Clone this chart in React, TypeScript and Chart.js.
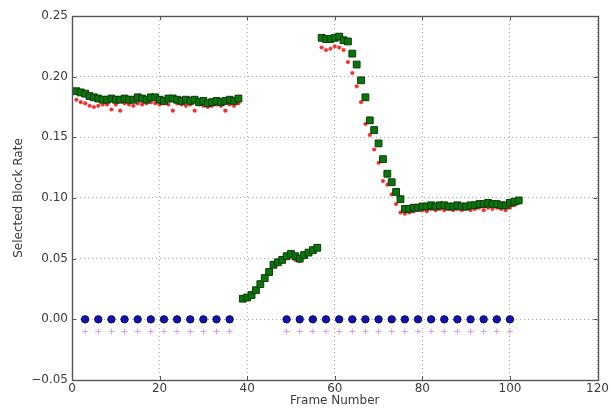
import React, { useEffect, useRef } from "react";
import { Chart, registerables } from "chart.js";

Chart.register(...registerables);

const frames = [
  1, 2, 3, 4, 5, 6, 7, 8, 9, 10, 11, 12, 13, 14, 15, 16, 17, 18, 19, 20,
  21, 22, 23, 24, 25, 26, 27, 28, 29, 30, 31, 32, 33, 34, 35, 36, 37, 38,
  39, 40, 41, 42, 43, 44, 45, 46, 47, 48, 49, 50, 51, 52, 53, 54, 55, 56,
  57, 58, 59, 60, 61, 62, 63, 64, 65, 66, 67, 68, 69, 70, 71, 72, 73, 74, 75, 76,
  77, 78, 79, 80, 81, 82, 83, 84, 85, 86, 87, 88, 89, 90, 91, 92, 93, 94, 95, 96,
  97, 98, 99, 100, 101, 102,
];

const greenRate = [
  0.188, 0.187, 0.186, 0.184, 0.183, 0.182, 0.181, 0.181, 0.182, 0.181,
  0.181, 0.182, 0.181, 0.181, 0.183, 0.182, 0.181, 0.183, 0.183, 0.181,
  0.180, 0.182, 0.182, 0.181, 0.180, 0.181, 0.180, 0.181, 0.179, 0.180,
  0.178, 0.179, 0.180, 0.179, 0.180, 0.181, 0.180, 0.182,
  0.017, 0.018, 0.020, 0.024, 0.029, 0.034, 0.039, 0.045, 0.047, 0.049,
  0.052, 0.054, 0.052, 0.050, 0.053, 0.055, 0.057, 0.059,
  0.232, 0.231, 0.231, 0.232, 0.233, 0.230, 0.229, 0.219, 0.210, 0.197,
  0.183, 0.164, 0.156, 0.145, 0.132, 0.120, 0.113, 0.105, 0.099, 0.091,
  0.091, 0.092, 0.092, 0.093, 0.093, 0.094, 0.093, 0.094, 0.094, 0.093,
  0.093, 0.094, 0.093, 0.093, 0.094, 0.094, 0.095, 0.095, 0.096, 0.095,
  0.095, 0.094, 0.094, 0.096, 0.097, 0.098,
];

const redRate = [
  0.181, 0.179, 0.178, 0.176, 0.175, 0.176, 0.177, 0.177, 0.173, 0.177,
  0.172, 0.178, 0.177, 0.176, 0.178, 0.177, 0.178, 0.179, 0.178, 0.177,
  0.178, 0.177, 0.172, 0.178, 0.177, 0.176, 0.177, 0.172, 0.177, 0.176,
  0.175, 0.176, 0.177, 0.176, 0.172, 0.177, 0.176, 0.178,
  0.016, 0.017, 0.019, 0.023, 0.028, 0.033, 0.038, 0.044, 0.046, 0.048,
  0.051, 0.052, 0.049, 0.048, 0.051, 0.054, 0.056, 0.058,
  0.224, 0.222, 0.223, 0.225, 0.224, 0.222, 0.212, 0.203, 0.192, 0.179,
  0.161, 0.152, 0.140, 0.129, 0.114, 0.111, 0.103, 0.095, 0.088, 0.087,
  0.088, 0.089, 0.090, 0.090, 0.089, 0.091, 0.090, 0.091, 0.090, 0.091,
  0.090, 0.091, 0.090, 0.091, 0.090, 0.091, 0.092, 0.090, 0.092, 0.091,
  0.092, 0.091, 0.090, 0.092, 0.094, 0.096,
];

const markerFrames = [
  3, 6, 9, 12, 15, 18, 21, 24, 27, 30, 33, 36,
  49, 52, 55, 58, 61, 64, 67, 70, 73, 76, 79, 82, 85, 88, 91, 94, 97, 100,
];
const blueRate = [
  0, 0, 0, 0, 0, 0, 0, 0, 0, 0, 0, 0,
  0, 0, 0, 0, 0, 0, 0, 0, 0, 0, 0, 0, 0, 0, 0, 0, 0, 0,
];
const plusRate = [
  -0.01, -0.01, -0.01, -0.01, -0.01, -0.01, -0.01, -0.01, -0.01, -0.01, -0.01, -0.01,
  -0.01, -0.01, -0.01, -0.01, -0.01, -0.01, -0.01, -0.01, -0.01, -0.01, -0.01, -0.01,
  -0.01, -0.01, -0.01, -0.01, -0.01, -0.01,
];

const xTicks = [0, 20, 40, 60, 80, 100, 120];
const yTicks = [-0.05, 0, 0.05, 0.1, 0.15, 0.2, 0.25];

const pts = (xs: number[], ys: number[]) => xs.map((x, i) => ({ x, y: ys[i] }));

const FONT = "'DejaVu Sans', sans-serif";
const TEXT = "#3c3c3c";

const boxPlugin = {
  id: "boxTicks",
  afterDraw(chart: any) {
    const { ctx, chartArea: a, scales } = chart;
    ctx.save();
    ctx.strokeStyle = "#555";
    ctx.lineWidth = 1;
    ctx.beginPath();
    for (const v of xTicks) {
      const px = Math.round(scales.x.getPixelForValue(v)) + 0.5;
      ctx.moveTo(px, a.bottom);
      ctx.lineTo(px, a.bottom - 4);
      ctx.moveTo(px, a.top);
      ctx.lineTo(px, a.top + 4);
    }
    for (const v of yTicks) {
      const py = Math.round(scales.y.getPixelForValue(v)) + 0.5;
      ctx.moveTo(a.left, py);
      ctx.lineTo(a.left + 4, py);
      ctx.moveTo(a.right, py);
      ctx.lineTo(a.right - 4, py);
    }
    ctx.stroke();
    ctx.lineWidth = 1.4;
    ctx.strokeRect(Math.round(a.left) + 0.5, Math.round(a.top) + 0.5, Math.round(a.right - a.left), Math.round(a.bottom - a.top));
    ctx.restore();
  },
};

export default function App() {
  const ref = useRef<HTMLCanvasElement | null>(null);
  useEffect(() => {
    if (!ref.current) return;
    const chart = new Chart(ref.current, {
      type: "scatter",
      data: {
        datasets: [
          {
            label: "green",
            data: pts(frames, greenRate),
            pointStyle: "rect",
            pointRadius: 4.8,
            backgroundColor: "#0d740d",
            borderColor: "#0a3d0a",
            borderWidth: 1,
          },
          {
            label: "red",
            data: pts(frames, redRate),
            pointStyle: "circle",
            pointRadius: 1.8,
            backgroundColor: "#ff2a2a",
            borderColor: "#e03030",
            borderWidth: 0.5,
          },
          {
            label: "blue",
            data: pts(markerFrames, blueRate),
            pointStyle: "circle",
            pointRadius: 3.7,
            backgroundColor: "#1212b4",
            borderColor: "#0c0c5a",
            borderWidth: 1,
          },
          {
            label: "plus",
            data: pts(markerFrames, plusRate),
            pointStyle: "cross",
            pointRadius: 3,
            backgroundColor: "#cfa2e6",
            borderColor: "#cfa2e6",
            borderWidth: 1,
          },
        ],
      },
      plugins: [boxPlugin],
      options: {
        animation: false,
        responsive: false,
        layout: { padding: { left: 4, right: 12, top: 16, bottom: 0 } },
        plugins: { legend: { display: false }, tooltip: { enabled: false } },
        scales: {
          x: {
            type: "linear",
            min: 0,
            max: 120,
            afterBuildTicks: (s: any) => {
              s.ticks = xTicks.map((v) => ({ value: v }));
            },
            afterFit: (s: any) => {
              s.height = 29;
            },
            grid: {
              color: "rgba(0,0,0,0.3)",
              lineWidth: 1,
              drawTicks: false,
            },
            border: { display: false, dash: [1, 3] },
            ticks: {
              padding: 2,
              color: TEXT,
              font: { family: FONT, size: 12 },
              maxRotation: 0,
              callback: (v: any) => String(v),
            },
            title: {
              display: true,
              text: "Frame Number",
              color: TEXT,
              font: { family: FONT, size: 12 },
              padding: { top: 0, bottom: 1 },
            },
          },
          y: {
            type: "linear",
            min: -0.05,
            max: 0.25,
            afterBuildTicks: (s: any) => {
              s.ticks = yTicks.map((v) => ({ value: v }));
            },
            afterFit: (s: any) => {
              s.width = 68;
            },
            grid: {
              color: "rgba(0,0,0,0.3)",
              lineWidth: 1,
              drawTicks: false,
            },
            border: { display: false, dash: [1, 3] },
            ticks: {
              padding: 4,
              color: TEXT,
              font: { family: FONT, size: 12 },
              callback: (v: any) => Number(v).toFixed(2).replace("-", "\u2212"),
            },
            title: {
              display: true,
              text: "Selected Block Rate",
              color: TEXT,
              font: { family: FONT, size: 12 },
              padding: { top: 8, bottom: 0 },
            },
          },
        },
      },
    });
    return () => chart.destroy();
  }, []);
  return (
    <canvas
      ref={ref}
      width={611}
      height={409}
      style={{ position: "absolute", left: 0, top: 0, width: 611, height: 409 }}
    />
  );
}
